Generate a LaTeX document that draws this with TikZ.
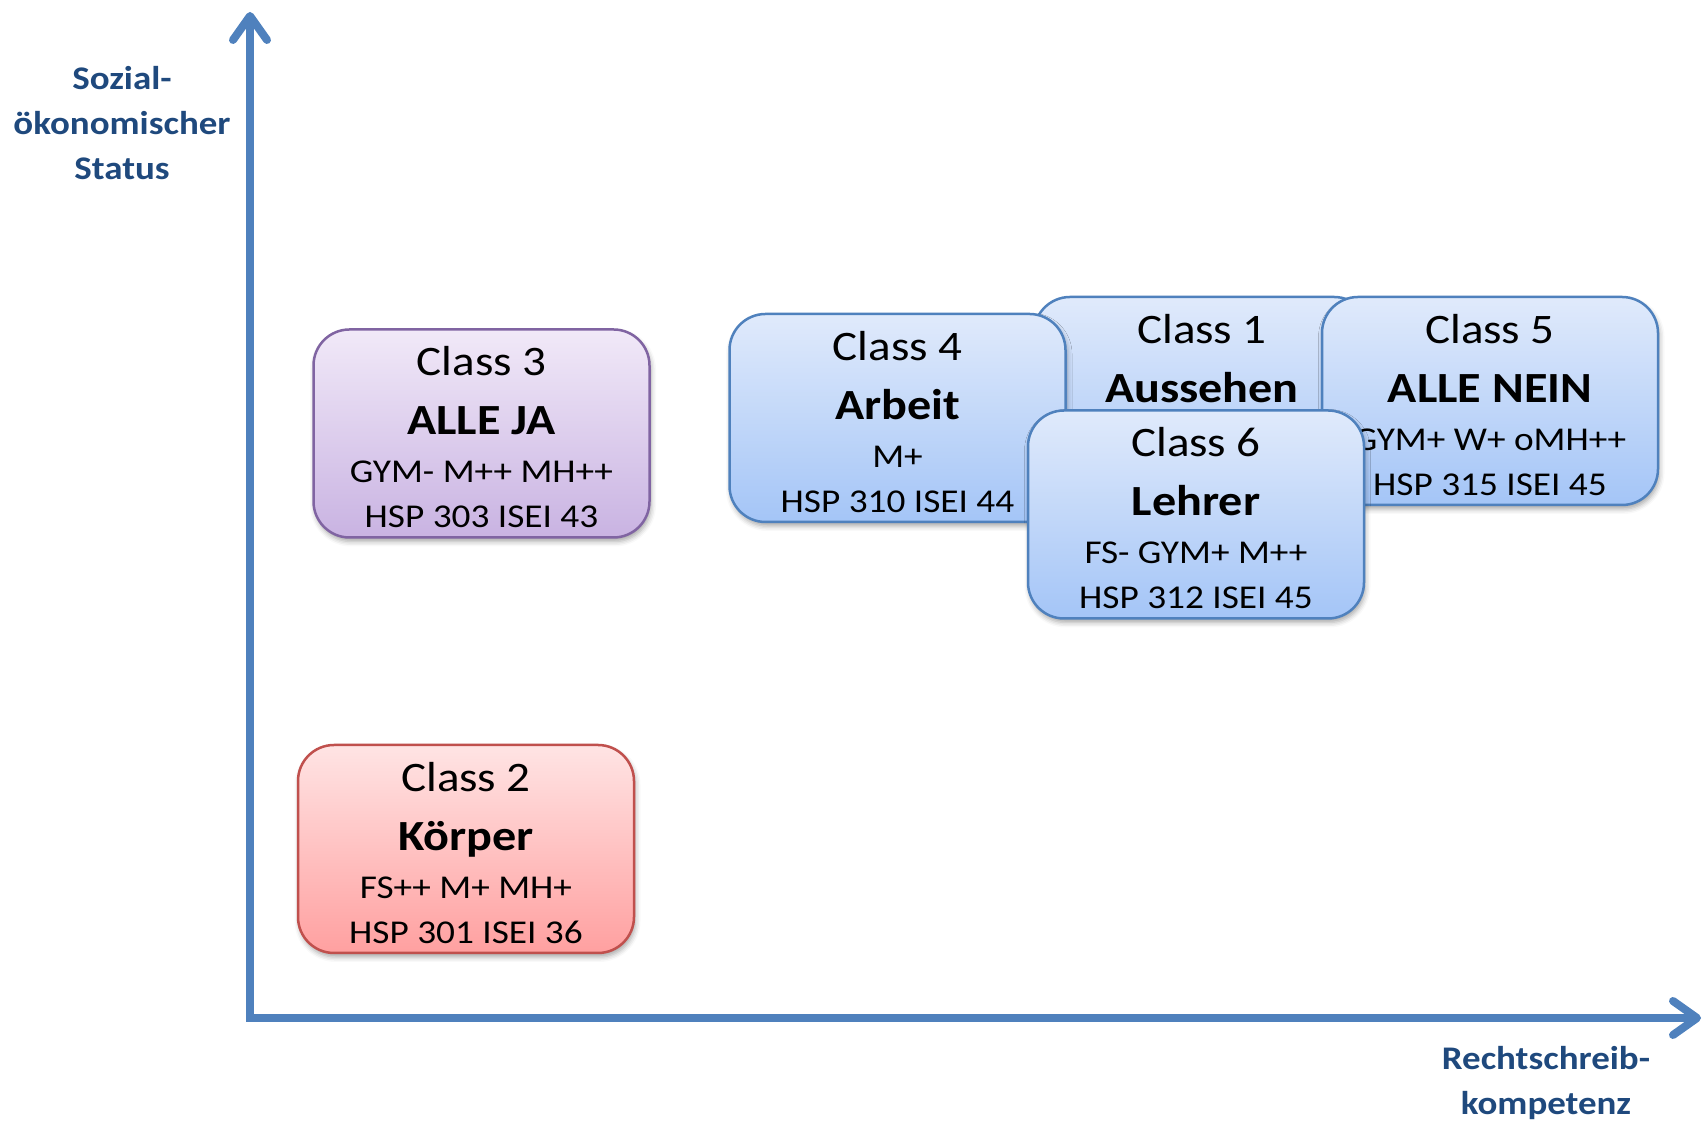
\documentclass[tikz,border=0pt]{standalone}
\usepackage{fontspec}
\setmainfont{Carlito}[FakeStretch=1.12]
\usetikzlibrary{arrows.meta,shadows.blur}
\definecolor{achsblau}{RGB}{79,129,189}
\definecolor{titelblau}{RGB}{31,73,125}
\definecolor{blauoben}{RGB}{224,234,251}
\definecolor{blauunten}{RGB}{164,197,247}
\definecolor{lilaoben}{RGB}{241,233,248}
\definecolor{lilaunten}{RGB}{201,179,226}
\definecolor{lilarand}{RGB}{128,100,162}
\definecolor{rotoben}{RGB}{255,228,228}
\definecolor{rotunten}{RGB}{255,160,160}
\definecolor{rotrand}{RGB}{192,80,77}
\newcommand{\kopfzeile}[1]{{\fontsize{42}{45}\selectfont\rule{0pt}{37pt}#1}}
\newcommand{\fettzeile}[1]{{\fontsize{43}{45}\selectfont\bfseries #1}}
\begin{document}
\begin{tikzpicture}[x=1pt,y=1pt,
  klasse/.style={draw, rounded corners=36pt, line width=2.5pt, minimum width=336pt, minimum height=208pt, inner sep=0pt, align=center, font=\fontsize{33.3}{45}\selectfont, blur shadow={shadow xshift=1.5pt, shadow yshift=-4pt, shadow blur radius=5pt, shadow opacity=35}},
  blaubox/.style={klasse, draw=achsblau, top color=blauoben, bottom color=blauunten},
  lilabox/.style={klasse, draw=lilarand, top color=lilaoben, bottom color=lilaunten},
  rotbox/.style={klasse, draw=rotrand, top color=rotoben, bottom color=rotunten},
  achse/.style={draw=achsblau, line width=8pt, line join=miter, {Straight Barb[round,length=24pt,width=34pt]}-{Straight Barb[round,length=24pt,width=34pt]}},
  achstitel/.style={text=titelblau, font=\fontsize{33}{45}\selectfont\bfseries, align=center}]
\useasboundingbox (0,0) rectangle (1706,1123);

% axes
\coordinate (O) at (250,105);
\coordinate (ytop) at (250,1111);
\coordinate (xend) at (1701,105);
\path[achse] (ytop) -- (O) -- (xend);
\node[achstitel] (ytitel) at (122,1000) {Sozial-\\ökonomischer\\Status};
\node[achstitel] (xtitel) at (1546,40) {Rechtschreib-\\kompetenz};

% classes
\node[lilabox] (k3) at (481.5,689.5) {\kopfzeile{Class 3}\\[14pt]\fettzeile{ALLE JA}\\[3pt]GYM- M++ MH++\\HSP 303 ISEI 43};
\node[rotbox] (k2) at (466,274) {\kopfzeile{Class 2}\\[14pt]\fettzeile{Körper}\\[3pt]FS++ M+ MH+\\HSP 301 ISEI 36};
\node[blaubox] (k1) at (1202,722) {\kopfzeile{Class 1}\\[14pt]\fettzeile{Aussehen}\\[3pt]\phantom{M+}\\\phantom{HSP}};
\node[blaubox] (k4) at (897.5,705) {\kopfzeile{Class 4}\\[14pt]\fettzeile{Arbeit}\\[3pt]M+\\HSP 310 ISEI 44};
\node[blaubox] (k5) at (1490,722) {\kopfzeile{Class 5}\\[14pt]\fettzeile{ALLE NEIN}\\[3pt]GYM+ W+ oMH++\\HSP 315 ISEI 45};
\node[blaubox] (k6) at (1196,608.5) {\kopfzeile{Class 6}\\[14pt]\fettzeile{Lehrer}\\[3pt]FS- GYM+ M++\\HSP 312 ISEI 45};
\end{tikzpicture}
\end{document}
